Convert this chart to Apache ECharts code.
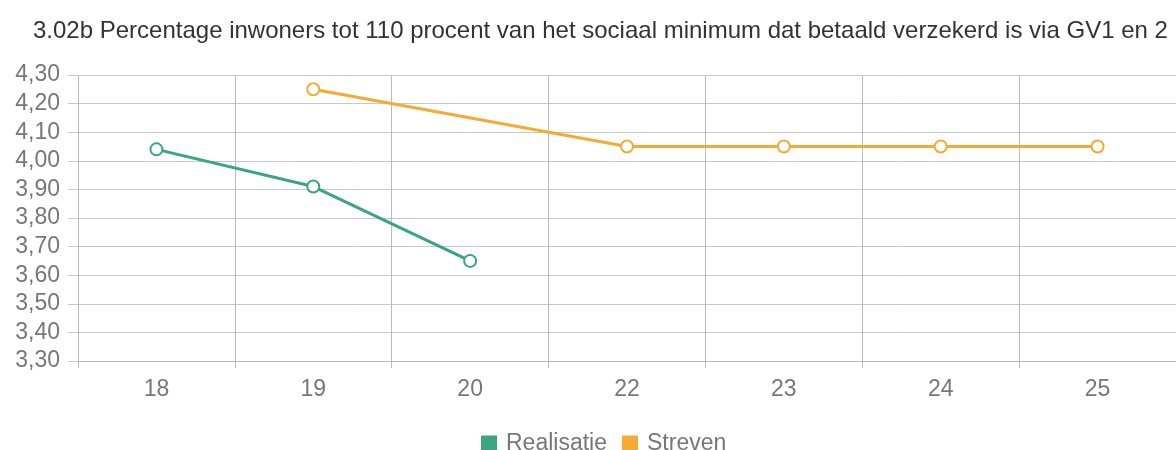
<!DOCTYPE html>
<html>
<head>
<meta charset="utf-8">
<script src="https://cdn.jsdelivr.net/npm/echarts@6/dist/echarts.min.js"></script>
<style>
  html, body { margin: 0; padding: 0; background: #fff; }
  #chart { width: 1176px; height: 450px; }
</style>
</head>
<body>
<div id="chart"></div>
<script>
var years = ['18', '19', '20', '22', '23', '24', '25'];
var realisatie = [4.04, 3.91, 3.65, null, null, null, null];
var streven = [null, 4.25, null, 4.05, 4.05, 4.05, 4.05];

var myChart = echarts.init(document.getElementById('chart'));

var option = {
    textStyle: { fontFamily: "'Liberation Sans', Arial, sans-serif" },
    title: {
        text: '3.02b Percentage inwoners tot 110 procent van het sociaal minimum dat betaald verzekerd is via GV1 en 2',
        left: 28,
        top: 14,
        textStyle: { fontSize: 24, fontWeight: 'normal', color: '#333' }
    },
    legend: {
        top: 427,
        left: 476,
        icon: 'rect',
        itemWidth: 16,
        itemHeight: 16,
        itemGap: 15,
        textStyle: { fontSize: 23, color: '#777', padding: [0, 0, 0, 4] },
        data: ['Realisatie', 'Streven']
    },
    grid: {
        left: 78,
        right: -19,
        top: 75,
        bottom: 89
    },
    xAxis: {
        type: 'category',
        data: years,
        boundaryGap: true,
        axisLine: { lineStyle: { color: '#bbb' } },
        axisTick: { show: true, length: 7, lineStyle: { color: '#bbb' } },
        axisLabel: { fontSize: 23, color: '#777', margin: 17 },
        splitLine: { show: true, lineStyle: { color: '#bbb' } }
    },
    yAxis: {
        type: 'value',
        min: 3.3,
        max: 4.3,
        interval: 0.1,
        axisLine: { show: false },
        axisTick: { show: true, length: 10, lineStyle: { color: '#c8c8c8' } },
        axisLabel: {
            fontSize: 23,
            color: '#777',
            margin: 18,
            formatter: function (v) { return v.toFixed(2).replace('.', ','); }
        },
        splitLine: { lineStyle: { color: '#c8c8c8' } }
    },
    series: [
        {
            name: 'Realisatie',
            type: 'line',
            data: realisatie,
            connectNulls: false,
            symbol: 'emptyCircle',
            symbolSize: 12,
            color: '#3aa57f',
            lineStyle: { width: 3 },
            itemStyle: { borderWidth: 3 }
        },
        {
            name: 'Streven',
            type: 'line',
            data: streven,
            connectNulls: true,
            symbol: 'emptyCircle',
            symbolSize: 12,
            color: '#f5aa33',
            lineStyle: { width: 3 },
            itemStyle: { borderWidth: 3 }
        }
    ]
};

myChart.setOption(option);
</script>
</body>
</html>
